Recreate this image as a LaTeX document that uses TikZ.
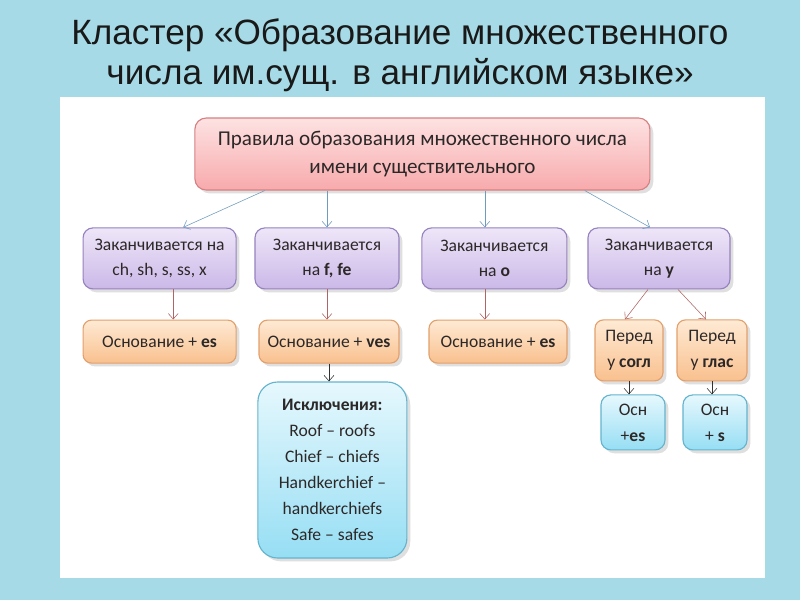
\documentclass[tikz,border=0pt]{standalone}
\usepackage{fontspec}
\setmainfont{Carlito}
\newfontfamily\titlefont{Liberation Sans}
\usetikzlibrary{arrows.meta,shadows}
\usepackage{xcolor}
\definecolor{water}{RGB}{166,218,230}
\definecolor{ink}{RGB}{45,40,40}
\definecolor{pinktop}{RGB}{253,226,226}
\definecolor{pinkbot}{RGB}{248,170,172}
\definecolor{pinkline}{RGB}{214,128,130}
\definecolor{lilactop}{RGB}{238,230,248}
\definecolor{lilacbot}{RGB}{203,184,232}
\definecolor{lilacline}{RGB}{150,130,190}
\definecolor{peachtop}{RGB}{254,234,212}
\definecolor{peachbot}{RGB}{249,192,142}
\definecolor{peachline}{RGB}{226,160,108}
\definecolor{skytop}{RGB}{230,248,253}
\definecolor{skybot}{RGB}{150,222,244}
\definecolor{skyline}{RGB}{100,180,205}
\definecolor{arrblue}{RGB}{110,155,190}
\definecolor{arrred}{RGB}{176,100,100}
\definecolor{arrdark}{RGB}{50,50,50}

\begin{document}
\begin{tikzpicture}[
    rule/.style={draw=pinkline, line width=0.8pt, rounded corners=8pt, top color=pinktop, bottom color=pinkbot, minimum width=11.375cm, minimum height=1.8cm, align=center, text=ink, font=\fontsize{15}{20}\selectfont, drop shadow={opacity=0.25}},
    ending/.style={draw=lilacline, line width=0.8pt, rounded corners=7pt, top color=lilactop, bottom color=lilacbot, minimum height=1.525cm, align=center, text=ink, font=\fontsize{12.5}{18}\selectfont, drop shadow={opacity=0.25}},
    result/.style={draw=peachline, line width=0.8pt, rounded corners=6pt, top color=peachtop, bottom color=peachbot, align=center, text=ink, font=\fontsize{12.5}{18}\selectfont, drop shadow={opacity=0.25}},
    exc/.style={draw=skyline, line width=0.8pt, rounded corners=7pt, top color=skytop, bottom color=skybot, align=center, text=ink, font=\fontsize{12.5}{18.5}\selectfont, drop shadow={opacity=0.25}}
]
    \useasboundingbox (0,0) rectangle (20,-15);
    \fill[water] (0,0) rectangle (20,-15);
    \fill[white] (1.5,-2.425) rectangle (19.125,-14.45);

    \node[align=center, text=black!90, font=\titlefont\fontsize{25}{28.5}\selectfont] (head) at (10,-1.38) {Кластер «Образование множественного\\числа им.сущ. в английском языке»};

    \node[rule] (rules) at (10.56,-3.85) {Правила образования множественного числа\\имени существительного};

    \node[ending, minimum width=3.825cm] (e1) at (3.99,-6.46) {Заканчивается на\\ch, sh, s, ss, x};
    \node[ending, minimum width=3.6cm] (e2) at (8.175,-6.46) {Заканчивается\\на \textbf{f, fe}};
    \node[ending, minimum width=3.625cm] (e3) at (12.36,-6.46) {Заканчивается\\на \textbf{o}};
    \node[ending, minimum width=3.55cm] (e4) at (16.475,-6.46) {Заканчивается\\на \textbf{y}};

    \node[result, minimum width=3.825cm, minimum height=1.075cm] (r1) at (3.99,-8.54) {Основание + \textbf{es}};
    \node[result, minimum width=3.5cm, minimum height=1.075cm] (r2) at (8.225,-8.54) {Основание + \textbf{ves}};
    \node[result, minimum width=3.45cm, minimum height=1.075cm] (r3) at (12.45,-8.54) {Основание + \textbf{es}};
    \node[result, minimum width=1.7cm, minimum height=1.525cm] (r4) at (15.725,-8.76) {Перед\\у \textbf{согл}};
    \node[result, minimum width=1.75cm, minimum height=1.525cm] (r5) at (17.8,-8.76) {Перед\\у \textbf{глас}};

    \node[exc, rounded corners=14pt, minimum width=3.725cm, minimum height=4.4cm] (ex) at (8.31,-11.75) {\textbf{Исключения:}\\Roof – roofs\\Chief – chiefs\\Handkerchief –\\handkerchiefs\\Safe – safes};
    \node[exc, minimum width=1.6cm, minimum height=1.375cm] (s1) at (15.825,-10.56) {Осн\\+\textbf{es}};
    \node[exc, minimum width=1.6cm, minimum height=1.375cm] (s2) at (17.875,-10.56) {Осн\\+ \textbf{s}};

    \draw[arrblue, -{Straight Barb[length=4pt,width=7pt]}] ([xshift=-3.94cm]rules.south) -- ([xshift=0.59cm]e1.north);
    \draw[arrblue, -{Straight Barb[length=4pt,width=7pt]}] (rules.south -| e2.north) -- (e2.north);
    \draw[arrblue, -{Straight Barb[length=4pt,width=7pt]}] ([xshift=-0.24cm]rules.south -| e3.north) -- ([xshift=-0.24cm]e3.north);
    \draw[arrblue, -{Straight Barb[length=4pt,width=7pt]}] ([xshift=4.06cm]rules.south) -- ([xshift=-0.225cm]e4.north);

    \draw[arrred, -{Straight Barb[length=4pt,width=7pt]}] ([xshift=0.34cm]e1.south) -- ([xshift=0.34cm]r1.north);
    \draw[arrred, -{Straight Barb[length=4pt,width=7pt]}] (e2.south) -- (e2.south |- r2.north);
    \draw[arrred, -{Straight Barb[length=4pt,width=7pt]}] ([xshift=-0.24cm]e3.south) -- ([xshift=-0.24cm]e3.south |- r3.north);
    \draw[arrred, -{Straight Barb[length=4pt,width=7pt]}] ([xshift=-0.275cm]e4.south) -- ([xshift=-0.1cm]r4.north);
    \draw[arrred, -{Straight Barb[length=4pt,width=7pt]}] ([xshift=0.475cm]e4.south) -- ([xshift=-0.15cm]r5.north);

    \draw[arrdark, -{Straight Barb[length=4pt,width=7pt]}] (r2.south) -- (r2.south |- ex.north);
    \draw[arrdark, -{Straight Barb[length=4pt,width=7pt]}] (r4.south) -- (r4.south |- s1.north);
    \draw[arrdark, -{Straight Barb[length=4pt,width=7pt]}] (r5.south) -- (r5.south |- s2.north);
\end{tikzpicture}
\end{document}
